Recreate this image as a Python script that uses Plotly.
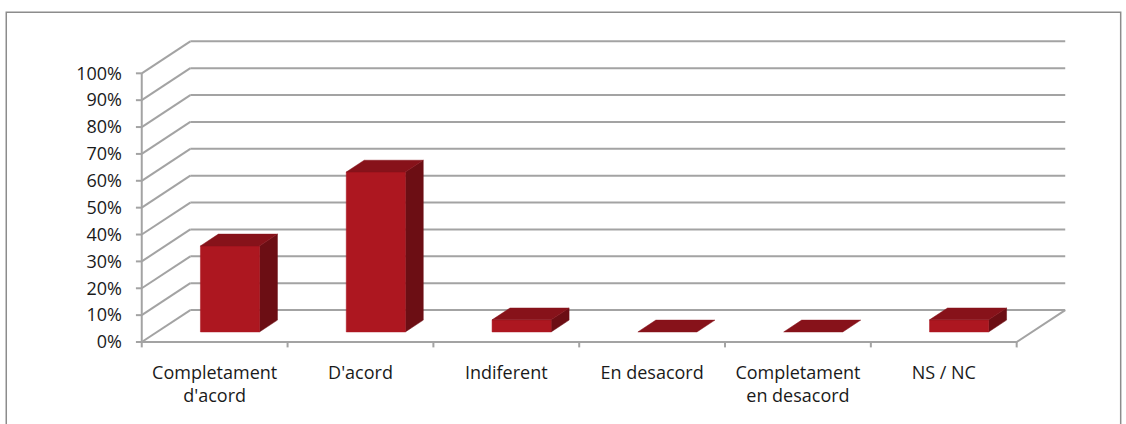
import plotly.graph_objects as go

# Survey answers and their share of respondents (%)
categories = ["Completament<br>d'acord", "D'acord", "Indiferent", "En desacord",
              "Completament<br>en desacord", "NS / NC"]
values = [32, 59.5, 4.5, 0, 0, 4.5]
y_ticks = list(range(0, 101, 10))
y_tick_labels = [f"{v}%" for v in y_ticks]

# Oblique projection of the depth axis, in data units
DX = 0.333   # horizontal shift of the back wall (category units)
DY = 11.9    # vertical shift of the back wall (percent units)
BAR_W = 0.405
BAR_F0 = 0.315   # front of bars as fraction of floor depth
BAR_D = 0.37     # bar depth as fraction of floor depth

FRONT = "#AD1720"
TOP = "#87121A"
SIDE = "#6C0E14"
GRID = "#A3A3A3"

X0, X1 = -0.56, 5.9
Y0, Y1 = -2.6, 115
W_PX, H_PX = 145.83, 2.69
left = 142 - (-0.5 - X0) * W_PX
top = 342 - Y1 * H_PX
plot_w = (X1 - X0) * W_PX
plot_h = (Y1 - Y0) * H_PX

fig = go.Figure()


def seg(xs, ys, color=GRID, width=2):
    fig.add_trace(go.Scatter(x=xs, y=ys, mode="lines",
                             line=dict(color=color, width=width),
                             hoverinfo="skip", showlegend=False))


def poly(xs, ys, color):
    fig.add_trace(go.Scatter(x=xs + [xs[0]], y=ys + [ys[0]], mode="lines",
                             fill="toself", fillcolor=color,
                             line=dict(color=color, width=0.5),
                             hoverinfo="skip", showlegend=False))


n = len(categories)
xl, xr = -0.5, n - 0.5

# Back wall gridlines and the left wall diagonals
for v in y_ticks:
    seg([xl + DX, xr + DX], [v + DY, v + DY])
    seg([xl, xl + DX], [v, v + DY])

# Floor outline
seg([xl, xr, xr + DX], [0, 0, DY])

# Front value axis with its tick marks
seg([xl, xl], [0, 100])
for v in y_ticks:
    seg([xl - 0.04, xl], [v, v])

# Category boundary tick marks below the floor edge
for k in range(n + 1):
    seg([xl + k, xl + k], [0, -2.0])

# 3D columns
for i, v in enumerate(values):
    x0 = i - BAR_W / 2 + BAR_F0 * DX
    x1 = x0 + BAR_W
    yb = BAR_F0 * DY
    yt = v + yb
    ddx, ddy = BAR_D * DX, BAR_D * DY
    if v > 0:
        poly([x1, x1 + ddx, x1 + ddx, x1], [yb, yb + ddy, yt + ddy, yt], SIDE)
        poly([x0, x1, x1, x0], [yb, yb, yt, yt], FRONT)
    poly([x0, x1, x1 + ddx, x0 + ddx], [yt, yt, yt + ddy, yt + ddy], TOP)

font = dict(family="Open Sans, sans-serif", size=18, color="#1a1a1a")


def px_x(p):
    return (p - left) / plot_w


def px_y(p):
    return (top + plot_h - p) / plot_h


fig.update_layout(
    width=1126, height=424, autosize=False,
    margin=dict(l=left, r=1126 - left - plot_w, t=top, b=424 - top - plot_h, pad=0),
    paper_bgcolor="white", plot_bgcolor="white",
    xaxis=dict(range=[X0, X1], tickvals=list(range(n)), ticktext=categories,
               showgrid=False, zeroline=False, showline=False, ticks="",
               tickfont=font, ticklabelstandoff=11, fixedrange=True),
    yaxis=dict(range=[Y0, Y1], tickvals=y_ticks, ticktext=y_tick_labels,
               showgrid=False, zeroline=False, showline=False, ticks="",
               tickfont=font, ticklabelstandoff=10, fixedrange=True),
    shapes=[dict(type="rect", xref="paper", yref="paper",
                 x0=px_x(6.5), x1=px_x(1121), y0=px_y(440), y1=px_y(12),
                 line=dict(color="#8C8C8C", width=1.5), layer="below")],
    showlegend=False,
)

fig.write_html("out.html")
